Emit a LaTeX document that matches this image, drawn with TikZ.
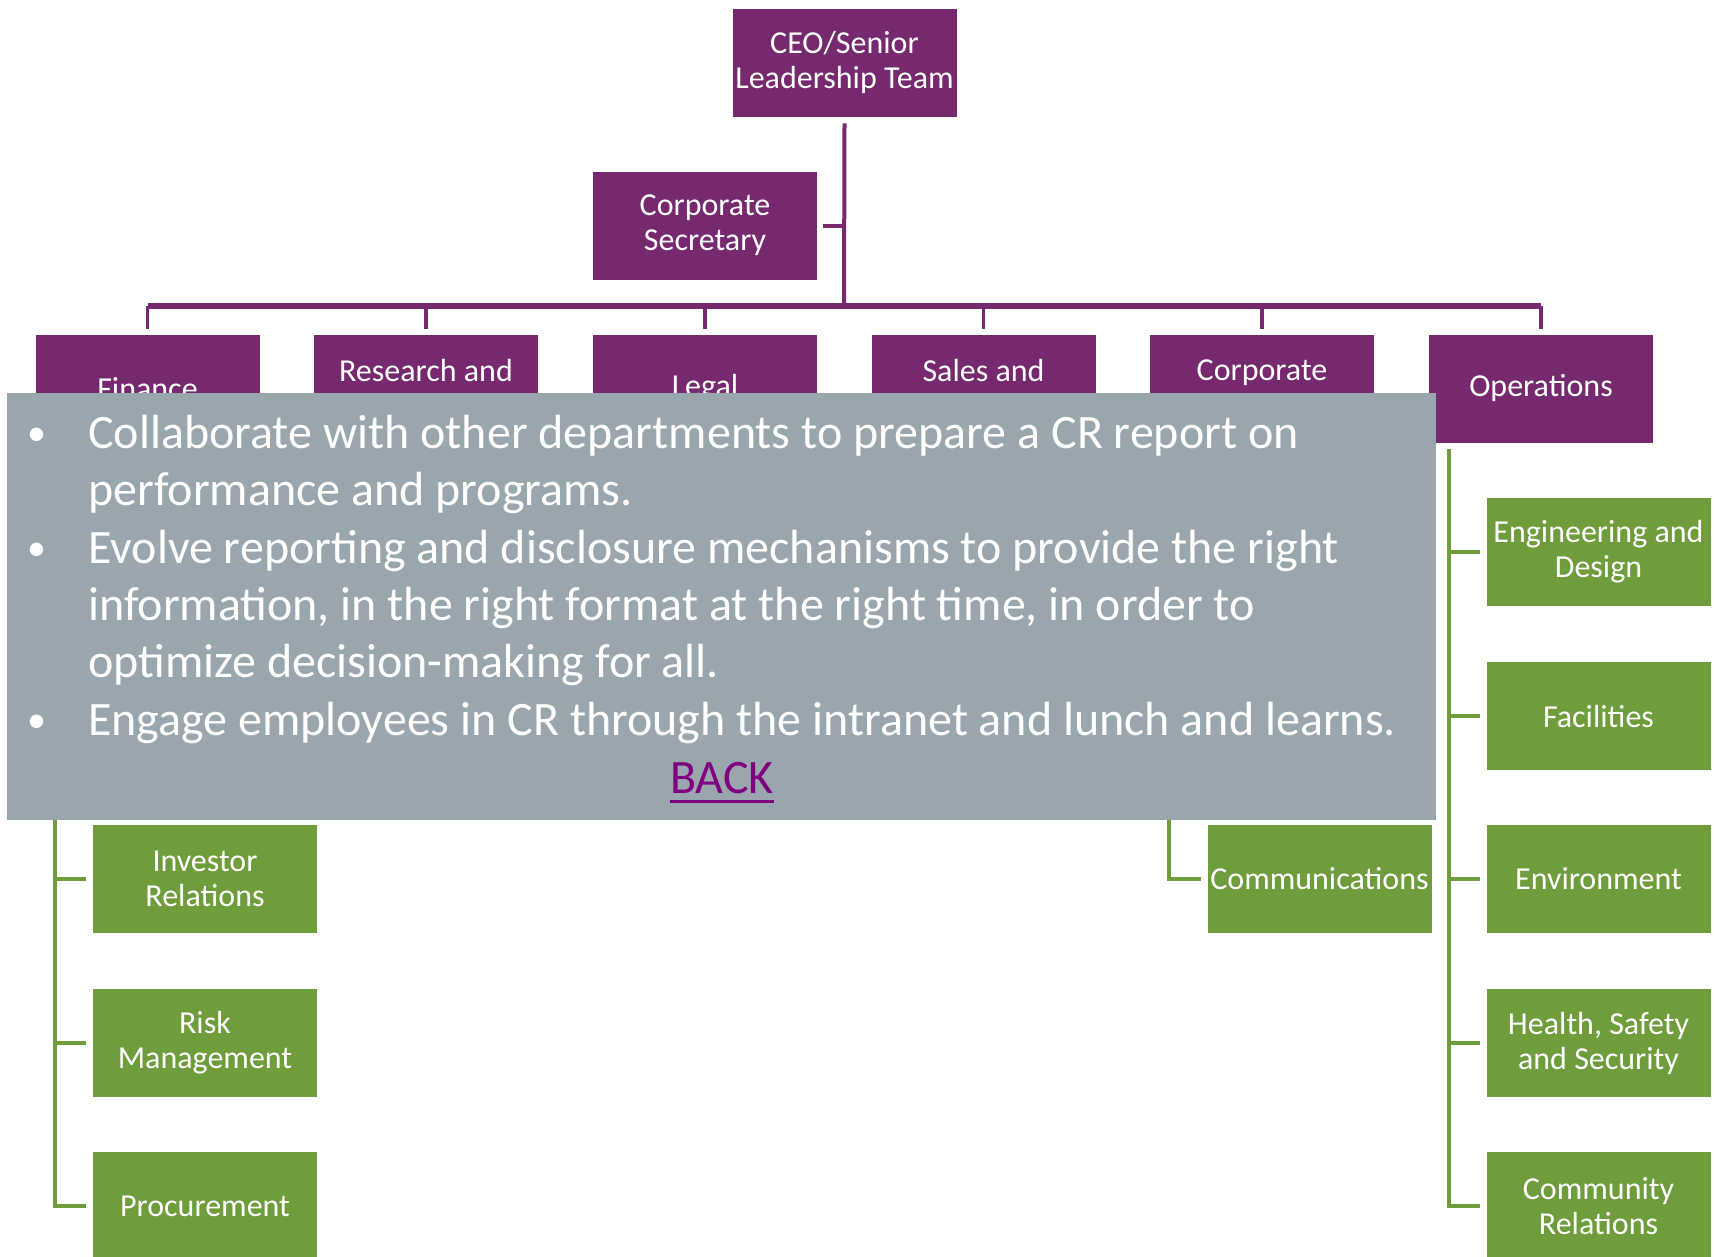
\documentclass[tikz,border=0pt]{standalone}
\usepackage{fontspec}
\setmainfont{Carlito}
\definecolor{plum}{RGB}{119,41,111}
\definecolor{leaf}{RGB}{111,157,60}
\definecolor{slate}{RGB}{154,166,173}
\definecolor{visited}{RGB}{128,0,128}
\begin{document}
\begin{tikzpicture}[x=1pt,y=-1pt,
  dept/.style={fill=plum,draw=white,line width=0.8pt,text=white,minimum width=225pt,
    minimum height=109pt,inner sep=0pt,align=center,font=\fontsize{32}{35}\selectfont},
  unit/.style={dept,fill=leaf},
  pline/.style={plum,line width=4pt},
  gline/.style={leaf,line width=4pt},
  note/.style={text=white,anchor=base west,inner sep=0pt,align=left,
    font=\fontsize{48}{57.4}\selectfont}]
  \useasboundingbox (0,0) rectangle (1715,1256);
  \node[dept] (ceo) at (844.5,62.5) {CEO/Senior\\Leadership Team};
  \node[dept] (sec) at (705,225.5) {Corporate\\Secretary};
  % departments
  \node[dept] (fin) at (147.5,388.5) {Finance};
  \node[dept] (rnd) at (426,388.5) {Research and\\[-9pt]\strut};
  \node[dept] (leg) at (705,388.5) {Legal};
  \node[dept] (sal) at (983.5,388.5) {Sales and\\[-9pt]\strut};
  \node[dept] (cor) at (1262,388.5) {Corporate\\[-9pt]\strut};
  \node[dept] (ops) at (1541,388.5) {Operations};
  \coordinate (bus) at (844,306);
  \draw[pline] ([yshift=-6pt]ceo.south) -- (bus);
  \draw[pline] ([xshift=5pt]sec.east) -- (sec.east -| bus);
  \draw[pline,line width=6pt] (fin |- bus) -- (ops |- bus);
  \foreach \d in {fin,rnd,leg,sal,cor,ops}
    \draw[pline,line width=3.5pt] (\d |- bus) -- ([yshift=5pt]\d.north);
  % units
  \node[unit] (inv) at (205,879) {Investor\\Relations};
  \node[unit] (risk) at (205,1043) {Risk\\Management};
  \node[unit] (proc) at (205,1206) {Procurement};
  \node[unit] (comm) at (1319.5,879) {Communications};
  \node[unit] (eng) at (1598.5,552) {Engineering and\\Design};
  \node[unit] (fac) at (1598.5,716) {Facilities};
  \node[unit] (env) at (1598.5,879) {Environment};
  \node[unit] (hss) at (1598.5,1043) {Health, Safety\\and Security};
  \node[unit] (comrel) at (1598.5,1206) {Community\\Relations};
  \coordinate (finbar) at (55,449);
  \coordinate (corbar) at (1169,449);
  \coordinate (opsbar) at (1449,449);
  \draw[gline] (finbar) |- ([xshift=-6pt]proc.west);
  \foreach \u in {inv,risk}
    \draw[gline] (finbar |- \u.west) -- ([xshift=-6pt]\u.west);
  \draw[gline] (corbar) |- ([xshift=-6pt]comm.west);
  \draw[gline] (opsbar) |- ([xshift=-6pt]comrel.west);
  \foreach \u in {eng,fac,env,hss}
    \draw[gline] (opsbar |- \u.west) -- ([xshift=-6pt]\u.west);
  % notes (base of a multi-line node = its last line)
  \node[fill=slate,minimum width=1429pt,minimum height=427pt,anchor=north west,
    inner sep=0pt] (panel) at (7,393) {};
  \foreach \y in {448,563,735}
    \node[note,font=\fontsize{38}{38}\selectfont] (dot\y) at (27,\y-3) {•};
  \node[note] (item1) at (88,505.4) {Collaborate with other departments to prepare a CR report on\\
    performance and programs.};
  \node[note] (item2) at (88,677.8) {Evolve reporting and disclosure mechanisms to provide the right\\
    information, in the right format at the right time, in order to\\
    optimize decision-making for all.};
  \node[note] (item3) at (88,735) {Engage employees in CR through the intranet and lunch and learns.};
  \node[note,text=visited,anchor=base] (back) at (722,793) {BACK};
  \draw[visited,line width=3pt] ([yshift=-8pt]back.base west) -- ([yshift=-8pt]back.base east);
\end{tikzpicture}
\end{document}
